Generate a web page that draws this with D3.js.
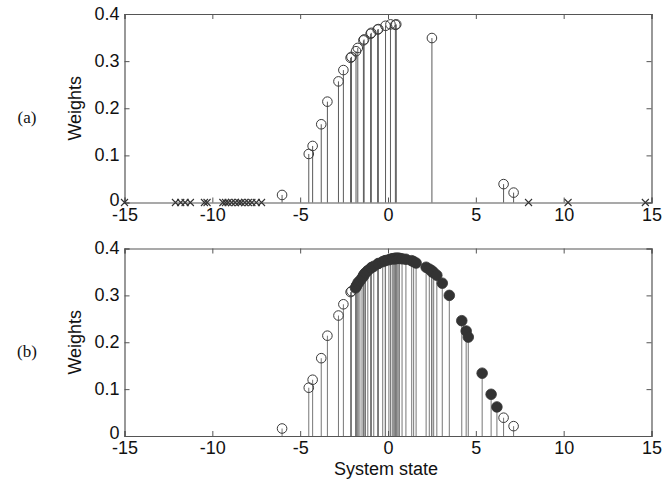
<!DOCTYPE html>
<html>
<head>
<meta charset="utf-8">
<script src="https://cdn.jsdelivr.net/npm/d3@7/dist/d3.min.js"></script>
<style>
body{margin:0;background:#fff;}
text{font-family:"Liberation Sans",Arial,sans-serif;}
</style>
</head>
<body>
<script>
// x ticks and y ticks
var xTicks=[-15,-10,-5,0,5,10,15];
var yTicks=[0,0.1,0.2,0.3,0.4];

// (a) particles with weight (open circles)
var aX=[-6.03,-4.51,-4.29,-3.80,-3.45,-2.82,-2.54,-2.13,-2.08,-1.82,-1.72,-1.40,-1.36,-0.99,-0.95,-0.59,-0.55,-0.14,0.14,0.42,0.47,2.50,6.58,7.15];
var aW=[0.016,0.103,0.120,0.166,0.214,0.257,0.281,0.307,0.309,0.321,0.328,0.344,0.346,0.358,0.360,0.367,0.368,0.375,0.378,0.377,0.378,0.349,0.039,0.021];
// (a) particles with zero weight (crosses)
var zX=[-15,-12.1,-11.8,-11.55,-11.25,-10.45,-10.3,-9.4,-9.25,-9.1,-8.9,-8.7,-8.5,-8.35,-8.15,-7.95,-7.75,-7.5,-7.2,8.0,10.25,14.65];

// (b) new particles (filled circles)
var bX=[-1.85,-1.79,-1.70,-1.60,-1.48,-1.38,-1.28,-1.15,-0.95,-0.81,-0.55,-0.30,-0.16,0.05,0.24,0.30,0.38,0.45,0.52,0.58,0.65,0.80,1.02,1.35,1.46,1.60,2.17,2.35,2.48,2.60,2.78,3.09,3.49,4.20,4.45,4.57,5.36,5.87,6.20];
var bW=[0.316,0.320,0.326,0.331,0.337,0.342,0.348,0.353,0.359,0.362,0.368,0.372,0.374,0.376,0.378,0.378,0.379,0.379,0.379,0.379,0.379,0.378,0.377,0.374,0.372,0.369,0.360,0.356,0.353,0.349,0.343,0.326,0.300,0.246,0.224,0.211,0.134,0.089,0.062];

var W=665,H=488;
var L=124.5,R=651.5;
var panels=[{top:14,bot:202.5,lab:"(a)"},{top:248.5,bot:436,lab:"(b)"}];

var svg=d3.select("body").append("svg").attr("width",W).attr("height",H);
var x=d3.scaleLinear().domain([-15,15]).range([L,R]);

panels.forEach(function(p,k){
	var y=d3.scaleLinear().domain([0,0.4]).range([p.bot,p.top]);
	var g=svg.append("g");

	var stemX,stemW;
	if(k==0){stemX=aX;stemW=aW;}
	else{stemX=aX.concat(bX);stemW=aW.concat(bW);}

	// stems
	g.selectAll("line.stem").data(d3.range(stemX.length)).enter().append("line")
		.attr("x1",function(i){return x(stemX[i]);})
		.attr("x2",function(i){return x(stemX[i]);})
		.attr("y1",y(0))
		.attr("y2",function(i){return y(stemW[i]);})
		.attr("stroke",k==0?"#5a5a5a":"#777").attr("stroke-width",1);

	// axes (inward ticks on all sides)
	var gb=g.append("g").attr("transform","translate(0,"+p.bot+")")
		.call(d3.axisBottom(x).tickValues(xTicks).tickSize(-5).tickPadding(5).tickFormat(function(d){return String(d);}));
	var gt=g.append("g").attr("transform","translate(0,"+p.top+")")
		.call(d3.axisTop(x).tickValues(xTicks).tickSize(-5).tickFormat(""));
	var gl=g.append("g").attr("transform","translate("+L+",0)")
		.call(d3.axisLeft(y).tickValues(yTicks).tickSize(-5).tickPadding(5).tickFormat(function(d){return d==0?"0":d.toFixed(1);}));
	var gr=g.append("g").attr("transform","translate("+R+",0)")
		.call(d3.axisRight(y).tickValues(yTicks).tickSize(-5).tickFormat(""));
	[gb,gt,gl,gr].forEach(function(a){
		a.select(".domain").attr("stroke","#555").attr("stroke-width",1.2);
		a.selectAll(".tick line").attr("stroke","#555");
		a.selectAll("text").attr("font-size",18).attr("fill","#111")
			.style("font-family","'Liberation Sans',Arial,sans-serif");
	});
	gb.selectAll("text").attr("dy","0.74em");
	gl.selectAll("text").attr("dy",function(d){return d==0?"0.15em":"0.3em";});

	// markers
	if(k==0){
		g.selectAll("path.cross").data(zX).enter().append("path")
			.attr("d",function(d){var cx=x(d),cy=y(0),s=3.5;return "M"+(cx-s)+","+(cy-s)+"L"+(cx+s)+","+(cy+s)+"M"+(cx-s)+","+(cy+s)+"L"+(cx+s)+","+(cy-s);})
			.attr("stroke","#333").attr("stroke-width",1.1).attr("fill","none");
	}
	g.selectAll("circle.open").data(d3.range(aX.length)).enter().append("circle")
		.attr("cx",function(i){return x(aX[i]);})
		.attr("cy",function(i){return y(aW[i]);})
		.attr("r",4.8).attr("fill","none").attr("stroke","#3a3a3a").attr("stroke-width",1);
	if(k==1){
		g.selectAll("circle.fill").data(d3.range(bX.length)).enter().append("circle")
			.attr("cx",function(i){return x(bX[i]);})
			.attr("cy",function(i){return y(bW[i]);})
			.attr("r",5.3).attr("fill","#333").attr("stroke","#333").attr("stroke-width",0.8);
	}

	// y label
	svg.append("text").attr("transform","translate(81,"+((p.top+p.bot)/2)+") rotate(-90)")
		.attr("text-anchor","middle").attr("font-size",18).attr("fill","#111").text("Weights");
	// panel label
	svg.append("text").attr("x",27).attr("y",(p.top+p.bot)/2+15).attr("text-anchor","middle")
		.attr("font-size",17).attr("fill","#111").style("font-family","'Liberation Serif','Times New Roman',serif")
		.text(p.lab);
});

svg.append("text").attr("x",386).attr("y",475).attr("text-anchor","middle")
	.attr("font-size",18).attr("fill","#111").text("System state");
</script>
</body>
</html>
